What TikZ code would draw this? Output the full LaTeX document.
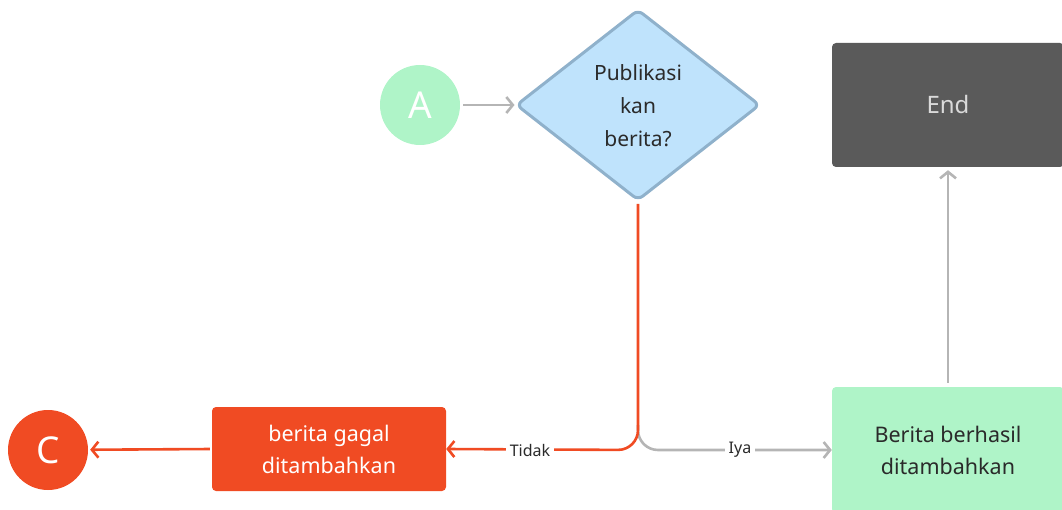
\documentclass[tikz,border=0pt]{standalone}
\usepackage{fontspec}
\setmainfont{Noto Sans}
\usetikzlibrary{shapes.geometric,arrows.meta}
\definecolor{cRed}{HTML}{F04B23}
\definecolor{cGray}{HTML}{B5B5B5}
\definecolor{cGreen}{HTML}{AFF4C8}
\definecolor{cBlue}{HTML}{BFE3FC}
\definecolor{cBlueEdge}{HTML}{8FB1CB}
\definecolor{cDark}{HTML}{5A5A5A}
\definecolor{cLight}{HTML}{DADADA}
\definecolor{cText}{HTML}{2A2A2A}
\begin{document}
\begin{tikzpicture}[x=1pt,y=-1pt,
 conn/.style={line width=2.6pt, -{Straight Barb[length=6.5pt,width=16pt,line width=2.6pt]}},
 box/.style={rounded corners=4pt, inner sep=0pt, align=center, font=\fontsize{21.5}{32}\selectfont},
 term/.style={circle, minimum size=80pt, inner sep=0pt, text=white, font=\fontsize{37}{40}\selectfont},
 lbl/.style={fill=white, inner sep=4pt, text=cText, font=\fontsize{16}{18}\selectfont}]
\useasboundingbox (0,0) rectangle (1062,510);
\clip (0,0) rectangle (1062,510);
% nodes
\node[term, fill=cGreen] (A) at (420,105) {A};
\node[diamond, draw=cBlueEdge, fill=cBlue, line width=3pt, rounded corners=6pt,
      minimum width=244pt, minimum height=191pt, inner sep=0pt] (Q) at (638,105) {};
\node[align=center, text=cText, font=\fontsize{21}{33}\selectfont] (Qt) at (638,106) {Publikasi\\kan\\berita?};
\node[box, fill=cDark, text=cLight, minimum width=232pt, minimum height=124pt, font=\fontsize{24}{30}\selectfont] (E) at (948,105) {End};
\node[box, fill=cGreen, text=cText, minimum width=232pt, minimum height=126pt] (S) at (948,450) {Berita berhasil\\ditambahkan};
\node[box, fill=cRed, text=white, minimum width=234pt, minimum height=84pt] (G) at (329,449) {berita gagal\\ditambahkan};
\node[term, fill=cRed] (C) at (48,450) {C};
\coordinate (J) at (638,450);
% connectors
\draw[conn, cGray, shorten <=3pt] (A) -- (Q.west);
\draw[conn, cGray, shorten <=4pt, shorten >=3pt] (S.north) -- (E.south);
\draw[conn, cGray, rounded corners=20pt] ([yshift=25pt]J) -- (J) -- (S.west);
\draw[conn, cRed, rounded corners=20pt, shorten <=2pt] (Q.south) -- (J) -- (G.east);
\draw[conn, cRed, shorten <=2pt, shorten >=2pt] (G.west) -- (C);
\node[lbl] (Lt) at (530,450) {Tidak};
\node[lbl] (Ly) at (740,450) {Iya};
\end{tikzpicture}
\end{document}
